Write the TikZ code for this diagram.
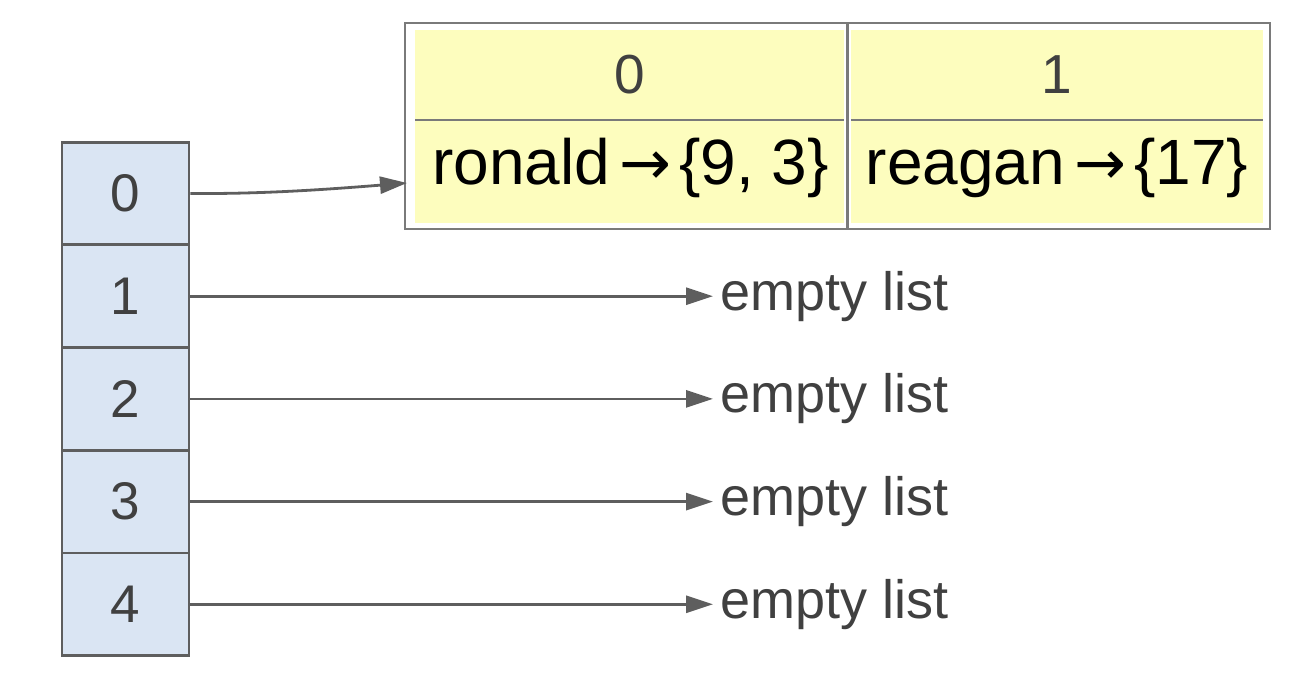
\documentclass[tikz,border=0pt]{standalone}
\usepackage{fontspec}
\setmainfont{Liberation Sans}
\newfontfamily\arrowfont{DejaVu Sans}
\usetikzlibrary{arrows.meta}
\definecolor{cellblue}{HTML}{DAE5F3}
\definecolor{cellyellow}{HTML}{FDFDBE}
\definecolor{edgegray}{HTML}{5E5E5E}
\definecolor{framegray}{HTML}{7A7A7A}
\definecolor{textgray}{HTML}{404040}
\newcommand{\maparrow}{\kern9pt{\arrowfont\fontsize{62}{70}\selectfont →}\kern8pt}
\tikzset{
  slot/.style={draw=edgegray, fill=cellblue, line width=2.8pt,
    minimum width=127pt, minimum height=102.7pt, inner sep=0pt,
    text=textgray, font=\fontsize{53}{58}\selectfont},
  headtext/.style={text=textgray, font=\fontsize{55}{60}\selectfont, inner sep=0pt},
  valtext/.style={text=black, font=\fontsize{64}{70}\selectfont, inner sep=0pt},
  emptytext/.style={text=textgray, font=\fontsize{54}{60}\selectfont, anchor=west, inner sep=7pt},
  link/.style={draw=edgegray, line width=2.8pt, -{Triangle[length=27pt,width=17pt]}},
  rule/.style={draw=framegray, line width=2.6pt}
}
\begin{document}
\begin{tikzpicture}[x=1pt,y=-1pt]
\useasboundingbox (0,0) rectangle (1298,676);

% bucket array
\node[slot] (c0) at (125.5,193.5) {0};
\node[slot] (c1) at (125.5,296.2) {1};
\node[slot] (c2) at (125.5,398.9) {2};
\node[slot] (c3) at (125.5,501.6) {3};
\node[slot] (c4) at (125.5,604.3) {4};

% table holding the entries of bucket 0
\node[draw=framegray, line width=2.8pt, minimum width=865pt, minimum height=206pt,
      inner sep=0pt] (tbl) at (837.5,126) {};
\fill[cellyellow] (415,30) rectangle (844,223);
\fill[cellyellow] (851,30) rectangle (1263,223);
\draw[rule] (847.5,23) -- (847.5,229);
\draw[rule] (415,120) -- (844,120);
\draw[rule] (851,120) -- (1263,120);
\node[headtext] (h0) at (629.5,75) {0};
\node[headtext] (h1) at (1057,75) {1};
\node[valtext] (v0) at (630.5,168) {ronald\maparrow\{9, 3\}};
\node[valtext] (v1) at (1057,168) {reagan\maparrow\{17\}};
\coordinate (tin) at (407,183);

% empty buckets
\node[emptytext] (e1) at (713,296.2) {empty list};
\node[emptytext] (e2) at (713,398.9) {empty list};
\node[emptytext] (e3) at (713,501.6) {empty list};
\node[emptytext] (e4) at (713,604.3) {empty list};

% pointers
\draw[link] (c0.east) .. controls (260,194) and (320,190) .. (tin);
\draw[link] (c1.east) -- (e1.west);
\draw[link] (c2.east) -- (e2.west);
\draw[link] (c3.east) -- (e3.west);
\draw[link] (c4.east) -- (e4.west);
\end{tikzpicture}
\end{document}
